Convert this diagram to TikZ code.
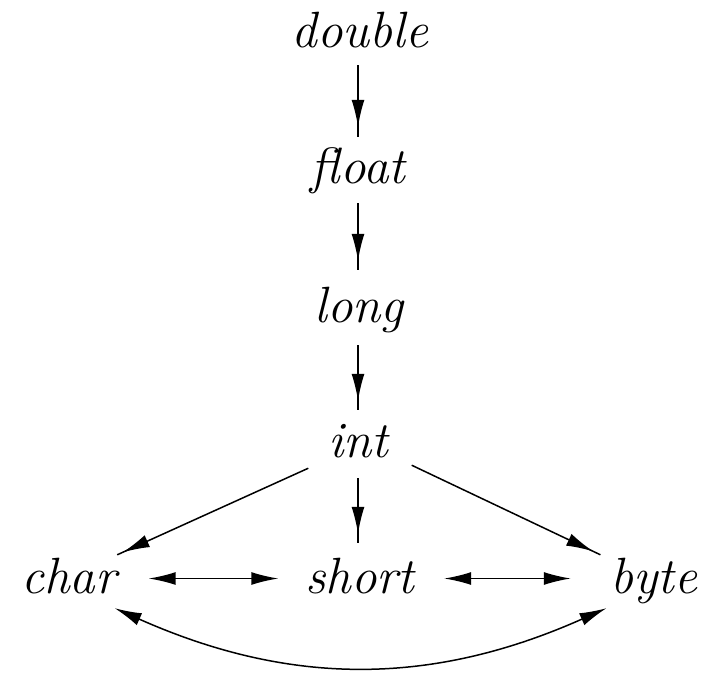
\documentclass[tikz,border=0pt]{standalone}
\usetikzlibrary{arrows.meta,calc,decorations.markings}
\begin{document}
\begin{tikzpicture}[x=1pt,y=1pt,
  lbl/.style={inner sep=0pt, anchor=base, text height=35pt, text depth=10pt,
    font=\fontsize{51}{60}\selectfont\itshape},
  conn/.style={line width=1.5pt, black},
  headtip/.tip={Latex[length=27pt,width=13pt]},
  midtip/.style={postaction={decorate}, decoration={markings,
    mark=at position #1 with {\arrow{headtip}}}}
]
\useasboundingbox (0,0) rectangle (704,-672);
\node[lbl] (double) at (360,-47) {double};
\node[lbl] (float)  at (358,-183) {float};
\node[lbl] (long)   at (359,-322) {long};
\node[lbl] (int)    at (358,-457) {int};
\node[lbl] (char)   at (69,-593) {char};
\node[lbl] (short)  at (360,-593) {short};
\node[lbl] (byte)   at (654,-593) {byte};

\draw[conn, midtip=-10pt] ($(double.south -| float.north)+(0,-8)$) -- ($(float.north)+(0,11)$);
\draw[conn, midtip=-9pt] ($(float.south)+(0,-10)$) -- ($(long.north -| float.south)+(0,17)$);
\draw[conn, midtip=-9pt] ($(long.south -| int.north)+(0,-13)$) -- ($(int.north)+(0,12)$);
\draw[conn, midtip=-9pt] ($(int.south)+(0,-11)$) -- ($(short.north -| int.south)+(0,15)$);

\draw[conn, midtip=-6pt] ($(int.south west)+(-19.5,-1)$) -- ($(char.north east)+(0.5,3)$);
\draw[conn, midtip=-8pt] ($(int.south east)+(23.5,2)$) -- ($(byte.north west)+(-10,3)$);

\draw[conn, headtip-headtip] ($(char.east)+(32,2)$) -- ($(short.west)+(-27,2)$);
\draw[conn, headtip-headtip] ($(short.east)+(29.5,2)$) -- ($(byte.west)+(-39.7,2)$);

\draw[conn, headtip-headtip] ($(char.south east)+(-2,-5)$) to[out=-24,in=-156] ($(byte.south west)+(-4,-5)$);
\end{tikzpicture}
\end{document}
